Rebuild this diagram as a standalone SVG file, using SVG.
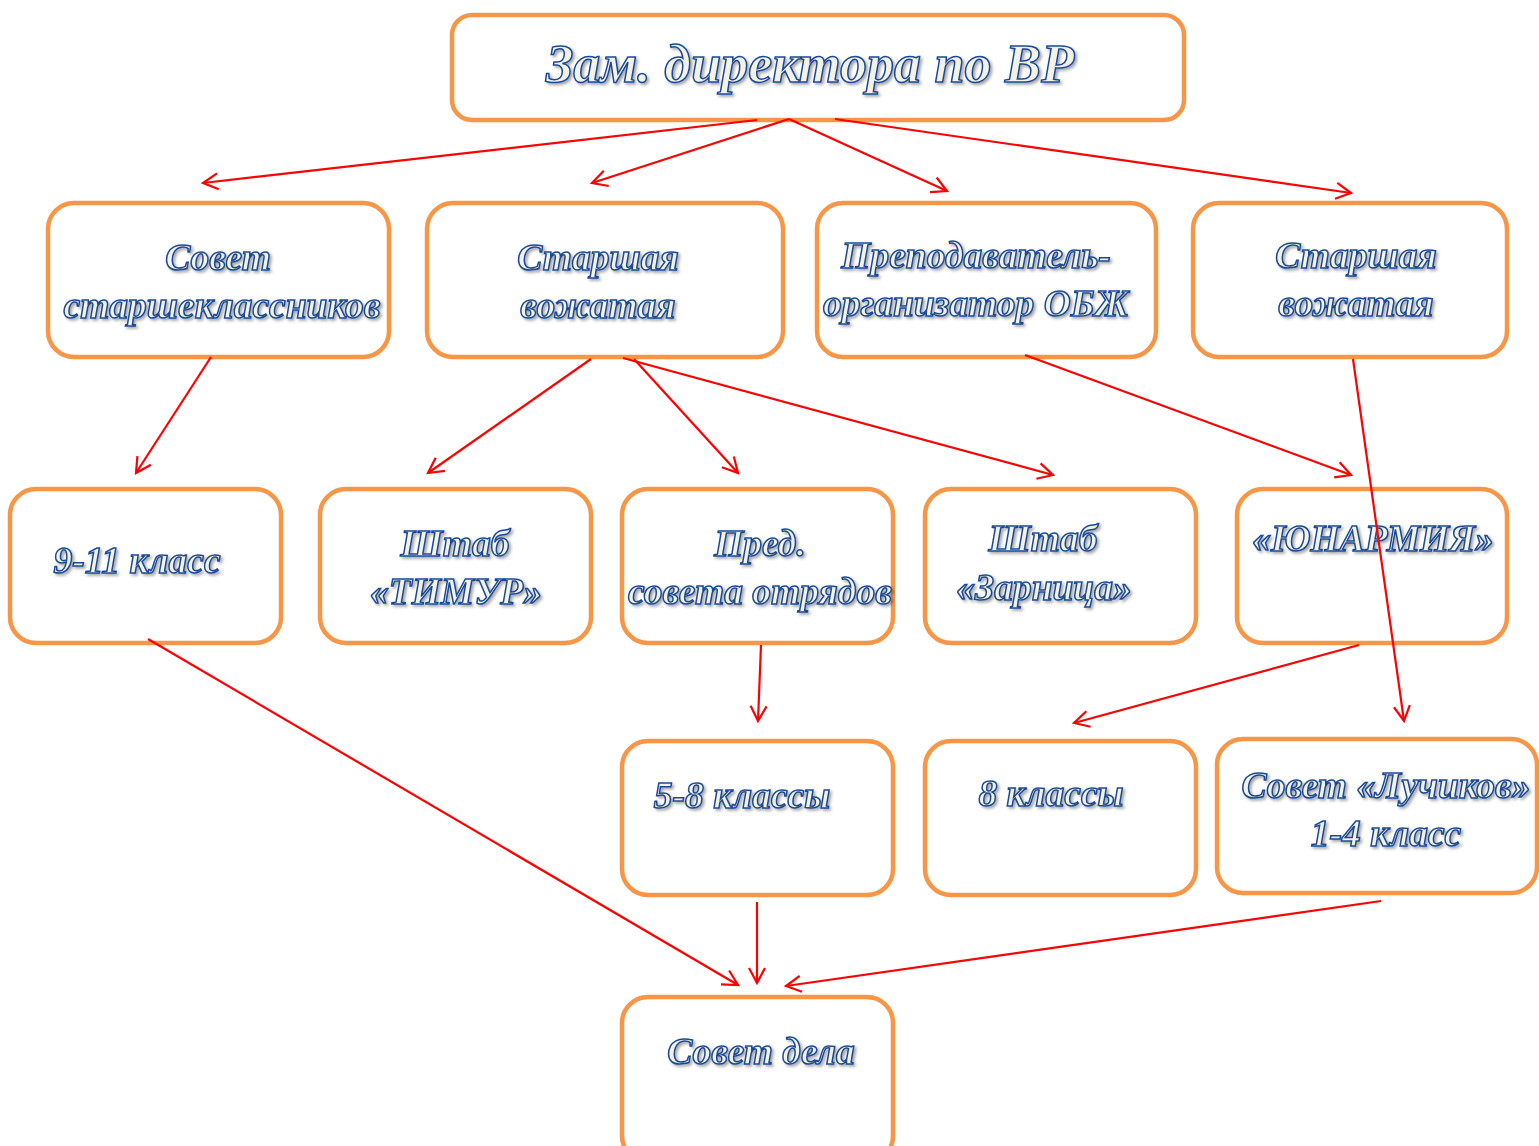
<svg xmlns="http://www.w3.org/2000/svg" width="1539" height="1146" viewBox="0 0 1539 1146">
<defs>
<style>
.box{fill:#ffffff;stroke:#f79646;stroke-width:4.5}
.t{font-family:"Liberation Serif","Times New Roman",serif;font-style:italic;font-weight:bold;fill:#f4f2e4;stroke:#1a4a96;stroke-width:1.5;text-anchor:middle;filter:url(#sh)}
.l{font-size:37.5px}
.c{stroke:#ff0000;stroke-width:2.2;fill:none;marker-end:url(#ah)}
</style>
<filter id="sh" x="-10%" y="-30%" width="120%" height="160%">
<feDropShadow dx="2" dy="2" stdDeviation="1.5" flood-color="#000" flood-opacity="0.35"/>
</filter>
<marker id="ah" markerUnits="userSpaceOnUse" markerWidth="22" markerHeight="22" refX="16" refY="9" orient="auto" viewBox="0 0 22 18">
<path d="M1,1 L16,9 L1,17" fill="none" stroke="#ff0000" stroke-width="2.2"/>
</marker>
</defs>
<rect width="1539" height="1146" fill="#ffffff"/>
<g id="n-zam">
<rect class="box" x="452" y="15" width="732" height="105" rx="20"/>
<text class="t" x="810" y="82" font-size="54">Зам. директора по ВР</text>
</g>
<g id="n-sovet-st">
<rect class="box" x="48" y="203" width="341" height="154" rx="26"/>
<text class="t l" x="218" y="270">Совет</text>
<text class="t l" x="222" y="318">старшеклассников</text>
</g>
<g id="n-vozh1">
<rect class="box" x="427" y="203" width="356" height="154" rx="26"/>
<text class="t l" x="598" y="270">Старшая</text>
<text class="t l" x="598" y="318">вожатая</text>
</g>
<g id="n-obzh">
<rect class="box" x="817" y="203" width="339" height="154" rx="26"/>
<text class="t l" x="976" y="268">Преподаватель-</text>
<text class="t l" x="976" y="316">организатор ОБЖ</text>
</g>
<g id="n-vozh2">
<rect class="box" x="1193" y="203" width="314" height="154" rx="26"/>
<text class="t l" x="1356" y="268">Старшая</text>
<text class="t l" x="1356" y="316">вожатая</text>
</g>
<g id="n-9-11">
<rect class="box" x="10" y="489" width="271" height="154" rx="26"/>
<text class="t l" x="137" y="573">9-11 класс</text>
</g>
<g id="n-timur">
<rect class="box" x="320" y="489" width="271" height="154" rx="26"/>
<text class="t l" x="455" y="556">Штаб</text>
<text class="t l" x="456" y="604">«ТИМУР»</text>
</g>
<g id="n-pred">
<rect class="box" x="622" y="489" width="271" height="154" rx="26"/>
<text class="t l" x="760" y="556">Пред.</text>
<text class="t l" x="760" y="604">совета отрядов</text>
</g>
<g id="n-zarnitsa">
<rect class="box" x="925" y="489" width="271" height="154" rx="26"/>
<text class="t l" x="1043" y="551">Штаб</text>
<text class="t l" x="1044" y="600">«Зарница»</text>
</g>
<g id="n-yunarmiya">
<rect class="box" x="1237" y="489" width="270" height="154" rx="26"/>
<text class="t l" x="1373" y="551">«ЮНАРМИЯ»</text>
</g>
<g id="n-5-8">
<rect class="box" x="622" y="741" width="271" height="154" rx="26"/>
<text class="t l" x="742" y="808">5-8 классы</text>
</g>
<g id="n-8">
<rect class="box" x="925" y="741" width="271" height="154" rx="26"/>
<text class="t l" x="1051" y="806">8 классы</text>
</g>
<g id="n-luchiki">
<rect class="box" x="1217" y="739" width="320" height="154" rx="26"/>
<text class="t l" x="1386" y="798">Совет «Лучиков»</text>
<text class="t l" x="1386" y="846">1-4 класс</text>
</g>
<g id="n-sovet-dela">
<rect class="box" x="622" y="997" width="271" height="165" rx="26"/>
<text class="t l" x="761" y="1064">Совет дела</text>
</g>
<g id="connectors">
<line class="c" x1="757" y1="120" x2="203" y2="183"/>
<line class="c" x1="789" y1="119" x2="592" y2="183"/>
<line class="c" x1="789" y1="119" x2="947" y2="191"/>
<line class="c" x1="835" y1="119" x2="1351" y2="193"/>
<line class="c" x1="211" y1="357" x2="136" y2="473"/>
<line class="c" x1="591" y1="359" x2="428" y2="473"/>
<line class="c" x1="634" y1="359" x2="738" y2="473"/>
<line class="c" x1="623" y1="358" x2="1053" y2="475"/>
<line class="c" x1="1025" y1="355" x2="1351" y2="475"/>
<line class="c" x1="1353" y1="359" x2="1404" y2="721"/>
<line class="c" x1="761" y1="645" x2="758" y2="721"/>
<line class="c" x1="1359" y1="645" x2="1074" y2="723"/>
<line class="c" x1="148" y1="639" x2="738" y2="985"/>
<line class="c" x1="757" y1="902" x2="757" y2="983"/>
<line class="c" x1="1381" y1="901" x2="786" y2="986"/>
</g>
</svg>
